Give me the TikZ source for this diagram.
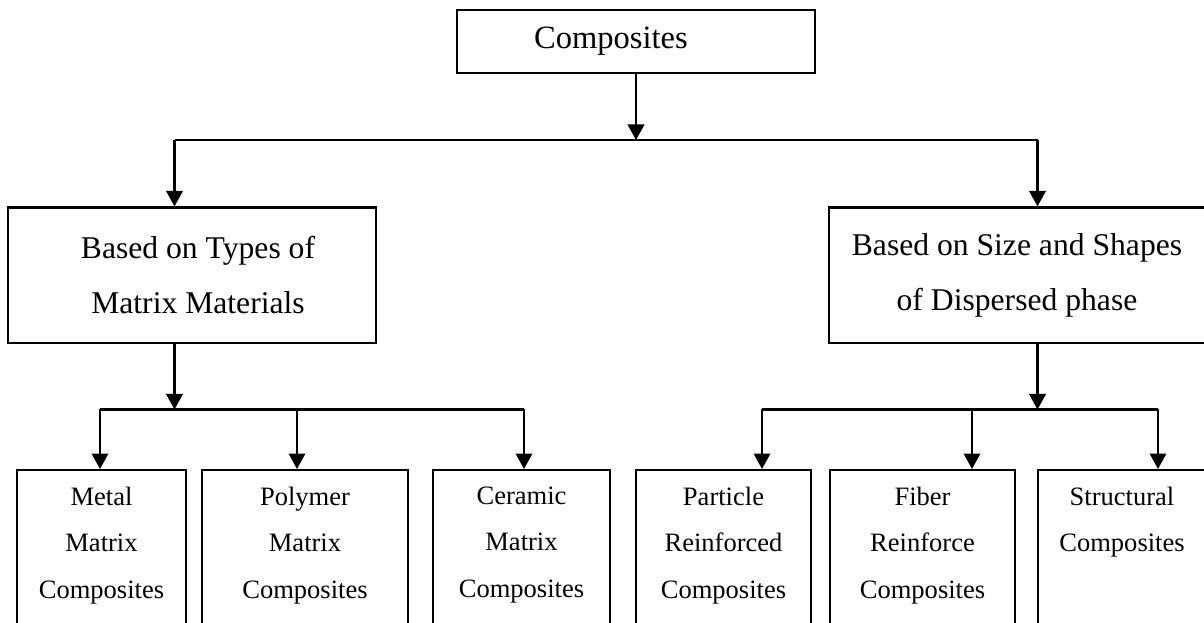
\documentclass[tikz,border=0pt]{standalone}
\usepackage{fontspec}
\setmainfont{Liberation Serif}
\usepackage{tikz}
\usetikzlibrary{arrows.meta}
\tikzset{
  arr/.style={-{Triangle[length=0.31cm,width=0.33cm]}, line width=1.25pt, draw=black},
  link/.style={line width=1.25pt, draw=black},
  topbox/.style={draw=black, line width=1.25pt, rectangle, minimum width=7.16cm, minimum height=1.26cm, inner sep=0pt, font=\fontsize{18.5}{22}\selectfont},
  groupbox/.style={draw=black, line width=1.25pt, rectangle, minimum height=2.71cm, inner sep=0pt, align=center, font=\fontsize{18}{31.5}\selectfont},
  leaf/.style={draw=black, line width=1.25pt, rectangle, anchor=north, align=center, inner xsep=0pt, inner ysep=0.33cm, text depth=3cm, font=\fontsize{15.1}{26.5}\selectfont}
}

\begin{document}
\begin{tikzpicture}
  \useasboundingbox (0,0) rectangle (24.08,12.44);

  \node[topbox] (comp) at (12.72,11.61) {\hspace*{-1.0cm}Composites};
  \node[groupbox, minimum width=7.36cm] (mtype) at (3.84,6.935) {\hspace*{0.24cm}Based on Types of\\\hspace*{0.24cm}Matrix Materials};
  \node[groupbox, minimum width=7.52cm] (dphase) at (20.34,6.935) {Based on Size and Shapes\\of Dispersed phase};

  \node[leaf, minimum width=3.38cm] (mmc) at (2.03,3.06) {Metal\\Matrix\\Composites};
  \node[leaf, minimum width=4.11cm] (pmc) at (6.10,3.06) {Polymer\\Matrix\\Composites};
  \node[leaf, minimum width=3.54cm] (cmc) at (10.43,3.06) {Ceramic\\Matrix\\Composites};
  \node[leaf, minimum width=3.50cm] (prc) at (14.47,3.06) {Particle\\Reinforced\\Composites};
  \node[leaf, minimum width=3.70cm] (frc) at (18.45,3.06) {Fiber\\Reinforce\\Composites};
  \node[leaf, minimum width=3.36cm] (stc) at (22.44,3.06) {Structural\\Composites};

  \coordinate (tl) at (3.49,9.64);
  \coordinate (tr) at (20.75,9.64);
  \coordinate (ll) at (2.00,4.25);
  \coordinate (lm) at (5.94,4.25);
  \coordinate (lr) at (10.48,4.25);
  \coordinate (rl) at (15.24,4.25);
  \coordinate (rm) at (19.44,4.25);
  \coordinate (rr) at (23.16,4.25);

  \draw[arr] (comp.south) -- (comp.south |- tl);
  \draw[link] (tl) -- (tr);
  \draw[arr] (tl) -- (tl |- mtype.north);
  \draw[arr] (tr) -- (tr |- dphase.north);

  \draw[arr] (tl |- mtype.south) -- (tl |- ll);
  \draw[link] (ll) -- (lr);
  \draw[arr] (ll) -- (ll |- mmc.north);
  \draw[arr] (lm) -- (lm |- pmc.north);
  \draw[arr] (lr) -- (lr |- cmc.north);

  \draw[arr] (tr |- dphase.south) -- (tr |- rl);
  \draw[link] (rl) -- (rr);
  \draw[arr] (rl) -- (rl |- prc.north);
  \draw[arr] (rm) -- (rm |- frc.north);
  \draw[arr] (rr) -- (rr |- stc.north);
\end{tikzpicture}
\end{document}
